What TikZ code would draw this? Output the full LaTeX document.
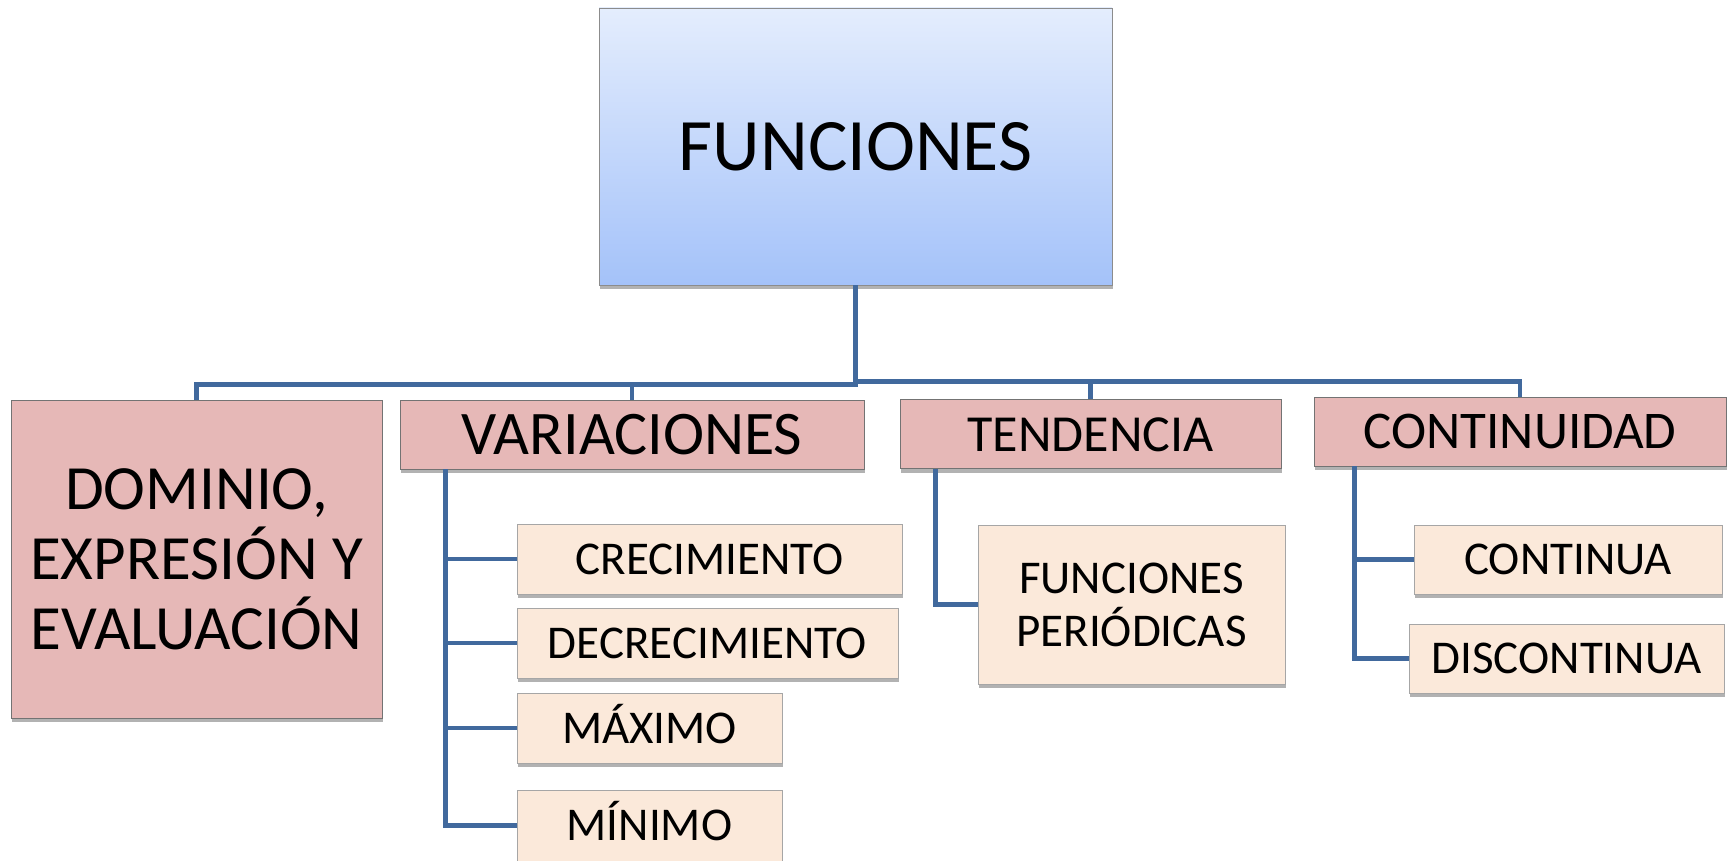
\documentclass[tikz,border=0pt]{standalone}
\usepackage{fontspec}
\setmainfont{Carlito}
\usetikzlibrary{shadows}
\definecolor{linkblue}{HTML}{41699D}
\definecolor{toptint}{HTML}{E4EDFD}
\definecolor{bottomtint}{HTML}{A4C2F9}
\definecolor{catpink}{HTML}{E6B8B7}
\definecolor{subpeach}{HTML}{FBE9DA}
\begin{document}
\begin{tikzpicture}[x=1pt,y=1pt,
    every node/.style={inner sep=0pt},
    boxshadow/.style={drop shadow={shadow xshift=1pt,shadow yshift=-4pt,opacity=0.3,fill=black}},
    topbox/.style={draw=black!45,top color=toptint,bottom color=bottomtint,boxshadow},
    catbox/.style={draw=black!55,fill=catpink,minimum height=69pt,boxshadow},
    subbox/.style={draw=black!35,fill=subpeach,minimum height=70pt,boxshadow,
        font=\fontsize{47}{53}\selectfont},
    link/.style={draw=linkblue,line width=4.8pt}]
    \useasboundingbox (0,0) rectangle (1731,-861);

    \node[topbox,minimum width=513pt,minimum height=277pt,font=\fontsize{74}{80}\selectfont]
        (funciones) at (855.5,-146.5) {FUNCIONES};

    \node[catbox,minimum width=371pt,minimum height=318pt,align=center,
        font=\fontsize{63}{70}\selectfont] (dominio) at (196.5,-559)
        {DOMINIO,\\EXPRESIÓN Y\\EVALUACIÓN};
    \node[catbox,minimum width=464pt,text height=40pt,text depth=0pt,
        font=\fontsize{62}{70}\selectfont] (variaciones) at (632,-434.5) {VARIACIONES};
    \node[catbox,minimum width=381pt,text height=34pt,text depth=0pt,
        font=\fontsize{52}{60}\selectfont] (tendencia) at (1090.5,-434) {TENDENCIA};
    \node[catbox,minimum width=412pt,text height=34pt,text depth=0pt,
        font=\fontsize{53}{60}\selectfont] (continuidad) at (1520,-431.5) {CONTINUIDAD};

    \node[subbox,minimum width=385pt,text height=30pt,text depth=0pt] (crecimiento) at (709.5,-559) {CRECIMIENTO};
    \node[subbox,minimum width=381pt,text height=30pt,text depth=0pt] (decrecimiento) at (707.5,-643) {DECRECIMIENTO};
    \node[subbox,minimum width=265pt,text height=30pt,text depth=0pt] (maximo) at (649.5,-728) {MÁXIMO};
    \node[subbox,minimum width=265pt,minimum height=71pt,text height=30pt,text depth=0pt] (minimo) at (649.5,-825.5) {MÍNIMO};

    \node[subbox,minimum width=307pt,minimum height=159pt,align=center] (periodicas) at (1131.5,-604.5)
        {FUNCIONES\\PERIÓDICAS};

    \node[subbox,minimum width=308pt,minimum height=69pt,text height=30pt,text depth=0pt] (continua) at (1568,-559.5) {CONTINUA};
    \node[subbox,minimum width=315pt,minimum height=69pt,text height=30pt,text depth=0pt] (discontinua) at (1566.5,-658.5) {DISCONTINUA};

    \draw[link] (funciones.south) -- ++(0,-99) -| (dominio.north);
    \draw[link] (funciones.south) -- ++(0,-99) -| (variaciones.north);
    \draw[link] (funciones.south) -- ++(0,-96) -| (tendencia.north);
    \draw[link] (funciones.south) -- ++(0,-96) -| (continuidad.north);

    \foreach \s in {crecimiento,decrecimiento,maximo,minimo}
        \draw[link] ([xshift=46pt]variaciones.south west) |- (\s.west);
    \draw[link] ([xshift=36pt]tendencia.south west) |- (periodicas.west);
    \foreach \s in {continua,discontinua}
        \draw[link] ([xshift=41pt]continuidad.south west) |- (\s.west);
\end{tikzpicture}
\end{document}
